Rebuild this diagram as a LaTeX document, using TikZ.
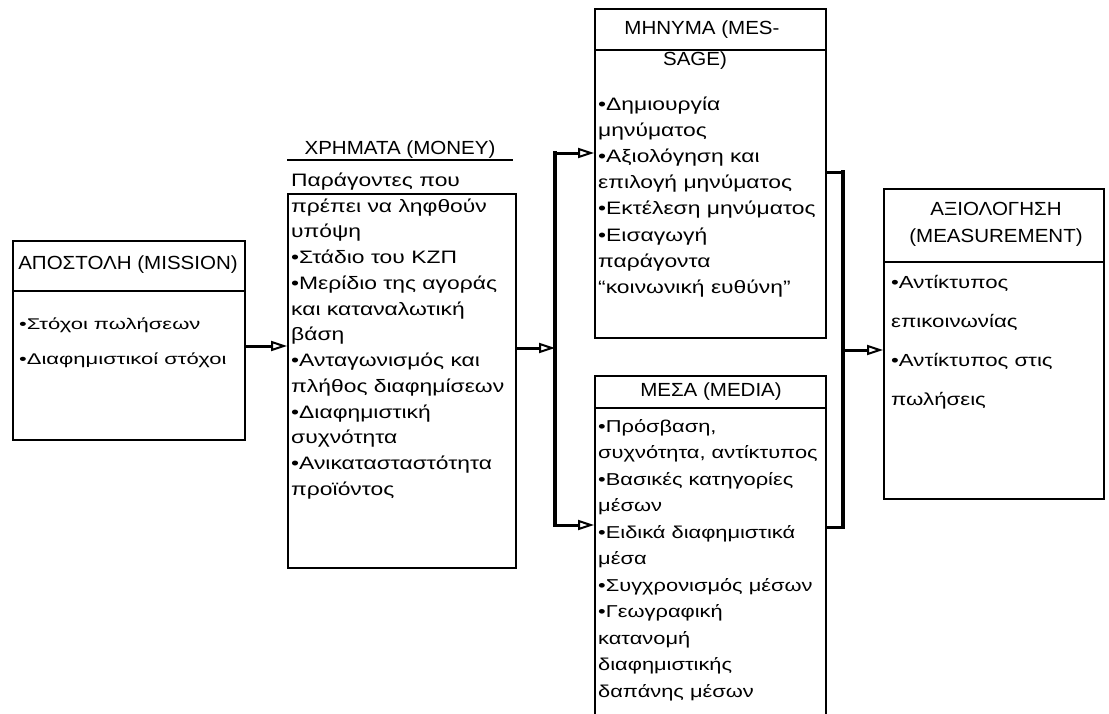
\documentclass[tikz,border=0pt]{standalone}
\usepackage{fontspec}
\setmainfont{Liberation Sans}
\newfontfamily\hdfont[FakeStretch=1.08]{Liberation Sans}
\newfontfamily\bdfont[FakeStretch=1.27]{Liberation Sans}
\newfontfamily\msfont[FakeStretch=1.42]{Liberation Sans}
\usetikzlibrary{arrows.meta}
\begin{document}
\begin{tikzpicture}[x=1pt,y=-1pt,
  box/.style={draw,line width=2.4pt,inner sep=0pt},
  divider/.style={line width=2pt},
  trunk/.style={line width=3.6pt},
  link/.style={line width=3pt},
  arr/.style={line width=3pt,-{Triangle[open,length=16pt,width=10pt,line width=2pt]}},
  head/.style={inner sep=0pt,font=\hdfont\fontsize{19}{22}\selectfont,align=center},
  body/.style={inner sep=0pt,anchor=west,align=left}
]
\useasboundingbox (0,0) rectangle (1109,713);
% boxes
\node[box,anchor=north west,minimum width=232pt,minimum height=199pt] (mission) at (12,240) {};
\node[box,anchor=north west,minimum width=228pt,minimum height=374pt] (money) at (287,193) {};
\node[box,anchor=north west,minimum width=231pt,minimum height=329pt] (message) at (594,8) {};
\node[box,anchor=north west,minimum width=231pt,minimum height=345pt] (media) at (594,375) {};
\node[box,anchor=north west,minimum width=220pt,minimum height=310pt] (measure) at (883,188) {};
% dividers
\draw[divider] (12,291) -- (244,291);
\draw[divider] (287,160) -- (513,160);
\draw[divider] (594,50) -- (825,50);
\draw[divider] (594,408) -- (825,408);
\draw[divider] (883,262) -- (1103,262);
% headers
\node[head] (missionhead) at (128,265) {ΑΠΟΣΤΟΛΗ (MISSION)};
\node[head] (moneyhead) at (400,150) {ΧΡΗΜΑΤΑ (MONEY)};
\node[head] (messagehead) at (702,30) {ΜΗΝΥΜΑ (MES-};
\node[head] (messagehead2) at (695,61) {SAGE)};
\node[head] (mediahead) at (711,392) {ΜΕΣΑ (MEDIA)};
\node[head,font=\hdfont\fontsize{19}{27}\selectfont] (measurehead) at (996,224) {ΑΞΙΟΛΟΓΗΣΗ\\(MEASUREMENT)};
% bodies
\node[body,font=\msfont\fontsize{15.5}{35}\selectfont] (missiontext) at (19,343) {•Στόχοι πωλήσεων\\•Διαφημιστικοί στόχοι};
\node[body,font=\bdfont\fontsize{18}{25.75}\selectfont] (moneytext) at (291,336) {Παράγοντες που\\πρέπει να ληφθούν\\υπόψη\\•Στάδιο του ΚΖΠ\\•Μερίδιο της αγοράς\\και καταναλωτική\\βάση\\•Ανταγωνισμός και\\πλήθος διαφημίσεων\\•Διαφημιστική\\συχνότητα\\•Ανικατασταστότητα\\προϊόντος};
\node[body,font=\bdfont\fontsize{18}{26.1}\selectfont] (messagetext) at (598,197) {•Δημιουργία\\μηνύματος\\•Αξιολόγηση και\\επιλογή μηνύματος\\•Εκτέλεση μηνύματος\\•Εισαγωγή\\παράγοντα\\“κοινωνική ευθύνη”};
\node[body,font=\bdfont\fontsize{17.2}{26.5}\selectfont] (mediatext) at (598,560) {•Πρόσβαση,\\συχνότητα, αντίκτυπος\\•Βασικές κατηγορίες\\μέσων\\•Ειδικά διαφημιστικά\\μέσα\\•Συγχρονισμός μέσων\\•Γεωγραφική\\κατανομή\\διαφημιστικής\\δαπάνης μέσων};
\node[body,font=\bdfont\fontsize{17.5}{39}\selectfont] (measuretext) at (891,342) {•Αντίκτυπος\\επικοινωνίας\\•Αντίκτυπος στις\\πωλήσεις};
% junction coordinates
\coordinate (ltop) at (555,153);
\coordinate (lmid) at (555,348);
\coordinate (lbot) at (555,525);
\coordinate (rtop) at (843,172);
\coordinate (rmid) at (843,350);
\coordinate (rbot) at (843,527);
% connectors
\draw[arr] (mission.east |- 0,346) -- (money.west |- 0,346);
\draw[arr] (money.east |- lmid) -- (lmid);
\draw[trunk,line cap=rect] (ltop) -- (lbot);
\draw[arr] (ltop) -- (message.west |- ltop);
\draw[arr] (lbot) -- (media.west |- lbot);
\draw[link] (message.east |- rtop) -- (rtop);
\draw[link] (media.east |- rbot) -- (rbot);
\draw[trunk,line cap=rect] (rtop) -- (rbot);
\draw[arr] (rmid) -- (measure.west |- rmid);
\end{tikzpicture}
\end{document}
